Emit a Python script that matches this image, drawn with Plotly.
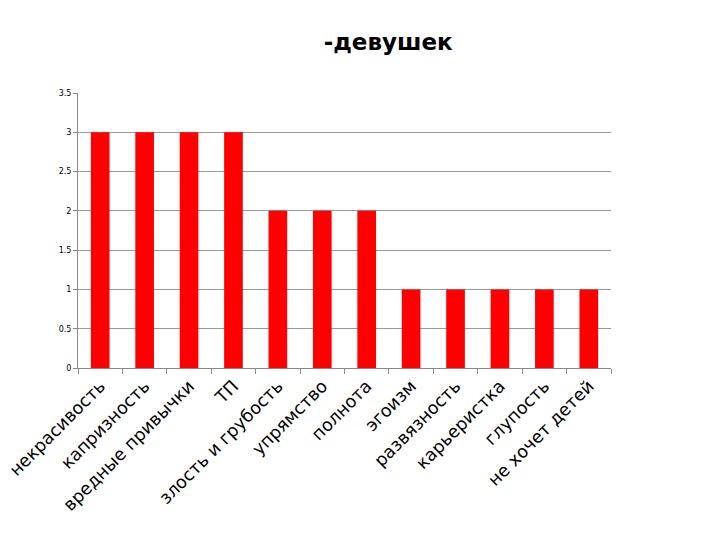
import plotly.graph_objects as go

categories = ["некрасивость", "капризность", "вредные привычки", "ТП",
              "злость и грубость", "упрямство", "полнота", "эгоизм",
              "развязность", "карьеристка", "глупость", "не хочет детей"]
values = [3, 3, 3, 3, 2, 2, 2, 1, 1, 1, 1, 1]
y_ticks = [0, 0.5, 1, 1.5, 2, 2.5, 3, 3.5]

fig = go.Figure(go.Bar(x=categories, y=values, marker=dict(color="#ff0000", line=dict(width=0)), width=0.42))

fig.update_layout(
    width=720, height=540,
    paper_bgcolor="white", plot_bgcolor="white",
    margin=dict(l=70, r=117, t=85, b=180),
    showlegend=False,
    title=dict(text="<b>-девушек</b>", x=0.528, xanchor="center", y=0.937, yanchor="middle",
               font=dict(family="DejaVu Sans", size=23, color="black")),
)
fig.update_xaxes(
    automargin=False,
    tickangle=-45, tickfont=dict(family="DejaVu Sans", size=17.5, color="black"),
    showline=True, linecolor="#888888", linewidth=1,
    ticks="outside", ticklen=5, tickcolor="#888888", tickson="boundaries",
    showgrid=False,
)
fig.update_yaxes(
    automargin=False,
    range=[0, 3.5], tickvals=y_ticks, ticktext=[("%g" % v) for v in y_ticks],
    tickfont=dict(family="DejaVu Sans", size=8, color="black"),
    showline=True, linecolor="#888888", linewidth=1,
    ticks="outside", ticklen=4, tickcolor="#888888",
    showgrid=True, gridcolor="#999999", gridwidth=1, zeroline=False,
)
fig.write_html("out.html")
